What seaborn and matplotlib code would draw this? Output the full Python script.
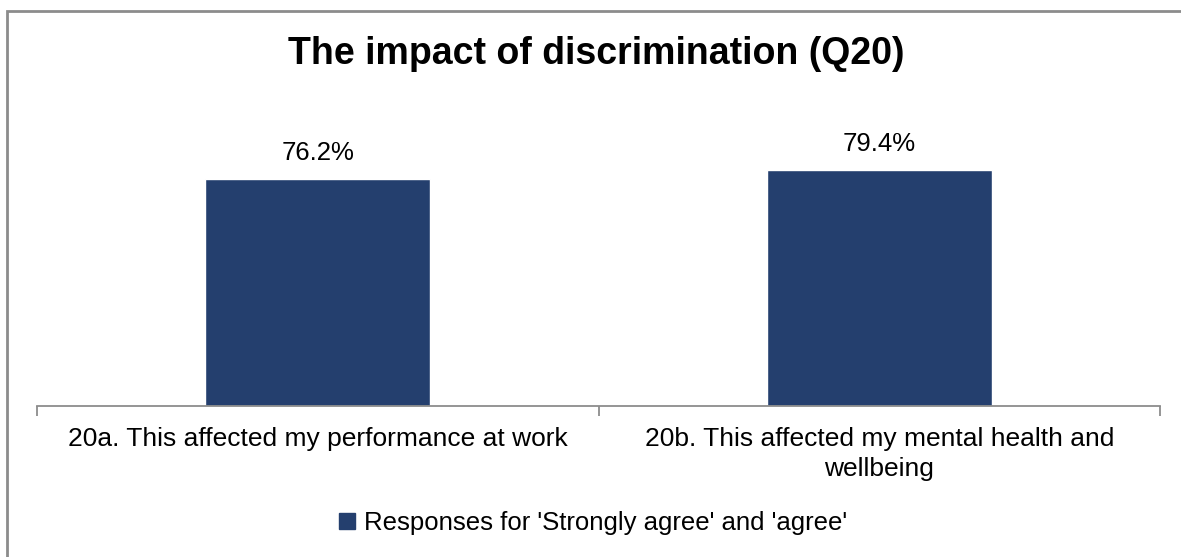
import matplotlib
matplotlib.use("Agg")
import matplotlib.pyplot as plt
import seaborn as sns
import pandas as pd
from matplotlib.patches import Rectangle, Patch

categories = [
    "20a. This affected my performance at work",
    "20b. This affected my mental health and\nwellbeing",
]
values = [76.2, 79.4]
value_labels = ["76.2%", "79.4%"]
series_name = "Responses for 'Strongly agree' and 'agree'"
title = "The impact of discrimination (Q20)"

sns.set_theme(style="white")
plt.rcParams["font.family"] = ["Liberation Sans", "DejaVu Sans"]

W, H = 1181, 557
fig = plt.figure(figsize=(W / 100, H / 100), dpi=100)

# outer chart frame (runs past the right and bottom edges)
fig.patches.append(Rectangle((7 / W, -10 / H), (1200 - 7) / W, (H + 10 - 11) / H,
                             transform=fig.transFigure, fill=False,
                             edgecolor="#8c8c8c", linewidth=2))

ax_left, ax_right, ax_bottom, ax_top = 37, 1160, 406, 138
ax = fig.add_axes([ax_left / W, (H - ax_bottom) / H,
                   (ax_right - ax_left) / W, (ax_bottom - ax_top) / H])

df = pd.DataFrame({"category": categories, "value": values})
bar_color = "#243F6E"
sns.barplot(data=df, x="category", y="value", color=bar_color,
            width=0.4, saturation=1, ax=ax)

ax.set_xlim(-0.5, 1.5)
ax.set_ylim(0, 90)
ax.set_xlabel("")
ax.set_ylabel("")
ax.set_yticks([])

for s in ["top", "right", "left"]:
    ax.spines[s].set_visible(False)
ax.spines["bottom"].set_color("#8c8c8c")
ax.spines["bottom"].set_linewidth(1.3)

# category boundary ticks
ax.set_xticks([-0.5, 0.5, 1.5], minor=True)
ax.tick_params(axis="x", which="minor", length=7, width=1.3, color="#8c8c8c",
               direction="out", bottom=True)
ax.tick_params(axis="x", which="major", length=0, pad=15, labelsize=19,
               labelcolor="black")
for t in ax.get_xticklabels():
    t.set_linespacing(1.35)
    t.set_verticalalignment("top")

for i, (v, lab) in enumerate(zip(values, value_labels)):
    ax.annotate(lab, xy=(i, v), xytext=(0, 10), textcoords="offset points",
                ha="center", va="bottom", fontsize=18.5, color="black")

fig.text(596 / W, (H - 54) / H, title, ha="center", va="center",
         fontsize=27, fontweight="bold", color="black")

handle = Patch(facecolor=bar_color, edgecolor=bar_color)
fig.legend([handle], [series_name], loc="center",
           bbox_to_anchor=(593 / W, (H - 523) / H), frameon=False,
           fontsize=18.5, handlelength=0.6, handleheight=0.6,
           handletextpad=0.35, labelcolor="black")

fig.savefig("out.png", dpi=100, facecolor="white")
